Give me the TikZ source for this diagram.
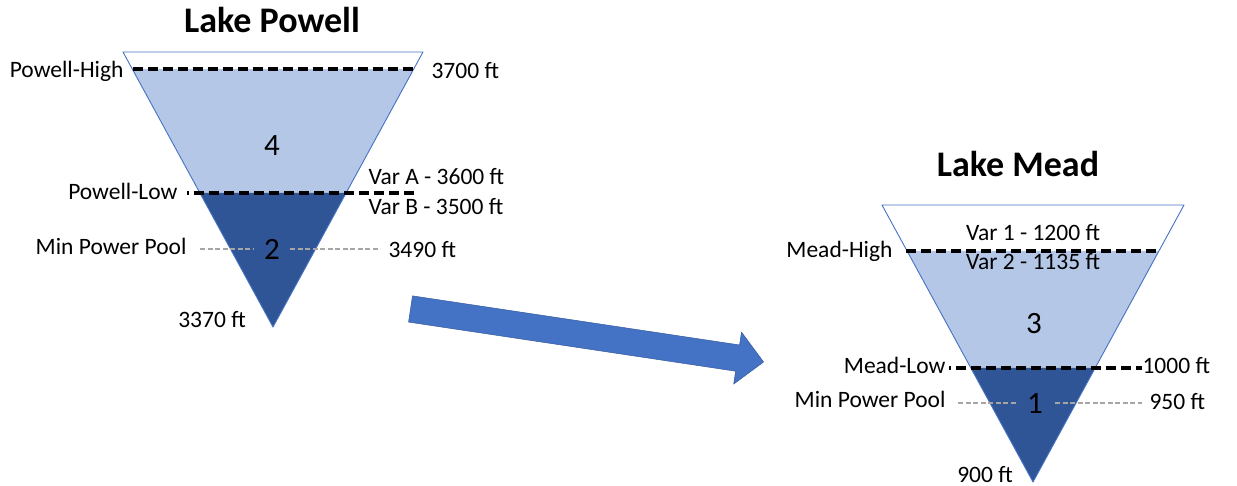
\documentclass[tikz,border=0pt]{standalone}
\usepackage{fontspec}
\setmainfont{Carlito}
\usetikzlibrary{calc,shapes.arrows}
\definecolor{lightwater}{HTML}{B4C7E7}
\definecolor{deepwater}{HTML}{2F5597}
\definecolor{rimblue}{HTML}{4472C4}
\definecolor{poolgray}{HTML}{A6A6A6}
\tikzset{
  level/.style={black, line width=3.2pt, dash pattern=on 10pt off 5pt},
  pool/.style={poolgray, line width=1.3pt, dash pattern=on 5pt off 2.5pt},
  rim/.style={rimblue, line width=0.9pt},
  laketitle/.style={font=\fontsize{36}{40}\selectfont\bfseries},
  zone/.style={font=\fontsize{31}{34}\selectfont}
}
\begin{document}
\begin{tikzpicture}[x=1pt, y=-1pt, font=\fontsize{23.5}{28}\selectfont, line join=round]
	\useasboundingbox (0,0) rectangle (1237,486);
	% Lake Powell
	\coordinate (ptl) at (123,52); \coordinate (ptr) at (423,52); \coordinate (pbot) at (273,327);
	\fill[lightwater] ($(ptl)!0.0618!(pbot)$) -- ($(ptr)!0.0618!(pbot)$) -- ($(ptr)!0.5127!(pbot)$) -- ($(ptl)!0.5127!(pbot)$) -- cycle;
	\fill[deepwater] ($(ptl)!0.5127!(pbot)$) -- ($(ptr)!0.5127!(pbot)$) -- (pbot) -- cycle;
	\draw[rim] (ptl) -- (ptr) -- (pbot) -- cycle;
	\node[laketitle, anchor=base] (powtitle) at (272,33) {Lake Powell};
	\node[anchor=base east] (powhigh) at (127,78) {Powell-High};
	\node[anchor=base west] (pow3700) at (428,79) {3700 ft};
	\node[zone, anchor=base] (zone4) at (272,156) {4};
	\node[anchor=base west] (vara) at (365,185) {Var A - 3600 ft};
	\node[anchor=base west] (varb) at (365,215) {Var B - 3500 ft};
	\node[anchor=base east] (powlow) at (181,200) {Powell-Low};
	\node[anchor=base east] (powmin) at (190,255) {Min Power Pool};
	\node[zone, anchor=base] (zone2) at (272,260) {2};
	\node[anchor=base west] (pow3490) at (385,258) {3490 ft};
	\node[anchor=base] (pow3370) at (212,327) {3370 ft};
	\coordinate (phl) at (133,69); \coordinate (phr) at (414,69);
	\coordinate (pll) at (187,193); \coordinate (plr) at (414,193);
	\draw[level] (phl) -- (phr);
	\draw[level, dash phase=8pt] (pll) -- (plr);
	\draw[pool] (200,249) -- (253,249);
	\draw[pool] (290,249) -- (380,249);
	% flow arrow
	\node[single arrow, fill=rimblue, draw=rimblue!80!black, line width=0.5pt, inner sep=13pt,
	  minimum height=357pt, single arrow head extend=13pt, rotate=-8.54] (flow) at (580.5,334.5) {};
	% Lake Mead
	\coordinate (mtl) at (882,205); \coordinate (mtr) at (1184,205); \coordinate (mbot) at (1033,482);
	\fill[lightwater] ($(mtl)!0.166!(mbot)$) -- ($(mtr)!0.166!(mbot)$) -- ($(mtr)!0.588!(mbot)$) -- ($(mtl)!0.588!(mbot)$) -- cycle;
	\fill[deepwater] ($(mtl)!0.588!(mbot)$) -- ($(mtr)!0.588!(mbot)$) -- (mbot) -- cycle;
	\draw[rim] (mtl) -- (mtr) -- (mbot) -- cycle;
	\node[laketitle, anchor=base] (meadtitle) at (1018,177) {Lake Mead};
	\node[anchor=base] (var1) at (1033,241) {Var 1 - 1200 ft};
	\node[anchor=base] (var2) at (1033,270) {Var 2 - 1135 ft};
	\node[anchor=base east] (meadhigh) at (896,258) {Mead-High};
	\node[zone, anchor=base] (zone3) at (1034,334) {3};
	\node[anchor=base east] (meadlow) at (949,373) {Mead-Low};
	\node[anchor=base west] (mead1000) at (1139,373) {1000 ft};
	\node[anchor=base east] (meadmin) at (949,407) {Min Power Pool};
	\node[zone, anchor=base] (zone1) at (1035,413) {1};
	\node[anchor=base west] (mead950) at (1146,409) {950 ft};
	\node[anchor=base] (mead900) at (985,482) {900 ft};
	\coordinate (mhl) at (906,251); \coordinate (mhr) at (1159,251);
	\coordinate (mll) at (949,368); \coordinate (mlr) at (1142,368);
	\draw[level] (mhl) -- (mhr);
	\draw[level, dash phase=8pt] (mll) -- (mlr);
	\draw[pool] (958,403) -- (1018,403);
	\draw[pool] (1055,403) -- (1142,403);
\end{tikzpicture}
\end{document}
